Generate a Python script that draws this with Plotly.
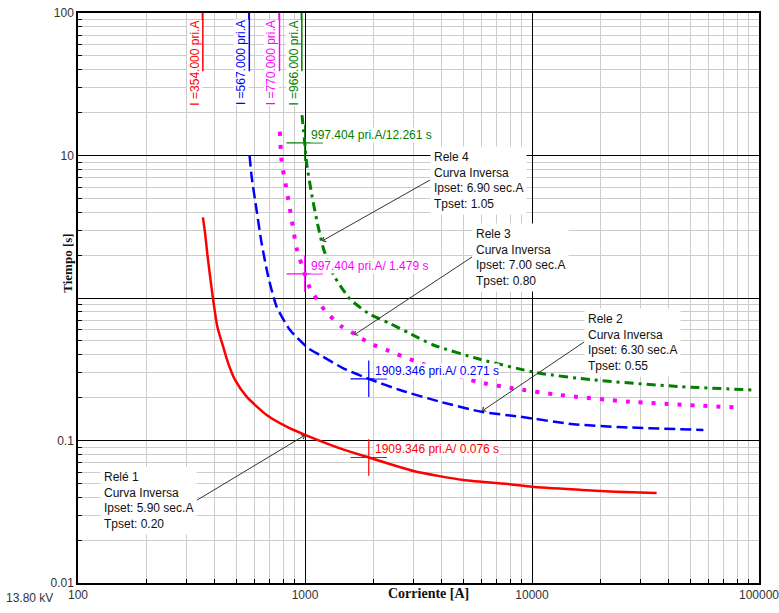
import math
import plotly.graph_objects as go

# ---------------- data ----------------
r1_x = [355, 363, 371, 382, 394, 411, 436, 459, 492, 553, 678, 830, 1007, 1426, 1909, 3000, 4980, 8000, 10000, 16560, 22060, 35400]
r1_y = [3.68, 2.84, 2.06, 1.41, 0.968, 0.629, 0.455, 0.348, 0.266, 0.203, 0.151, 0.125, 0.109, 0.088, 0.076, 0.0611, 0.0528, 0.0493, 0.0474, 0.045, 0.0438, 0.0428]

r2_x = [570, 582, 612, 644, 689, 750, 859, 1034, 1164, 1475, 1909, 2621, 3936, 5998, 8850, 15200, 25200, 56900]
r2_y = [10.0, 7.1, 4.14, 2.42, 1.41, 0.869, 0.596, 0.444, 0.398, 0.321, 0.271, 0.226, 0.187, 0.159, 0.147, 0.130, 0.124, 0.1186]

r3_x = [775, 789, 830, 873, 919, 997.4, 1052, 1225, 1452, 1606, 1932, 2328, 3105, 5700, 8280, 13280, 27000, 77100]
r3_y = [14.7, 9.05, 5.73, 3.57, 2.23, 1.479, 1.17, 0.815, 0.629, 0.574, 0.481, 0.427, 0.357, 0.259, 0.232, 0.2085, 0.187, 0.171]

r4_x = [970, 997.4, 1017, 1070, 1126, 1208, 1340, 1578, 1901, 2366, 2851, 3673, 5902, 10500, 18620, 44900, 94400]
r4_y = [19.2, 12.261, 8.81, 5.37, 3.53, 2.2, 1.44, 0.984, 0.781, 0.663, 0.571, 0.468, 0.3715, 0.299, 0.266, 0.239, 0.226]

pickups = [354.0, 567.0, 770.0, 966.0]
pickup_labels = ["I =354.000 pri.A", "I =567.000 pri.A", "I =770.000 pri.A", "I =966.000 pri.A"]
colors = ["#ff0000", "#0000ff", "#ff00ff", "#008000"]

cross_x = [997.404, 997.404, 1909.346, 1909.346]
cross_y = [12.261, 1.479, 0.271, 0.076]
cross_text = ["997.404 pri.A/12.261 s", "997.404 pri.A/ 1.479 s", "1909.346 pri.A/ 0.271 s", "1909.346 pri.A/ 0.076 s"]
cross_colors = ["#008000", "#ff00ff", "#0000ff", "#ff0000"]

relay_text = [
    "Relé 1<br>Curva Inversa<br>Ipset: 5.90 sec.A<br>Tpset: 0.20",
    "Rele 2<br>Curva Inversa<br>Ipset: 6.30 sec.A<br>Tpset: 0.55",
    "Rele 3<br>Curva Inversa<br>Ipset: 7.00 sec.A<br>Tpset: 0.80",
    "Rele 4<br>Curva Inversa<br>Ipset: 6.90 sec.A<br>Tpset: 1.05",
]
relay_tip_x = [1000, 6026, 1644, 1188]
relay_tip_y = [0.109, 0.161, 0.55, 2.51]

x_ticks = [100, 1000, 10000, 100000]
y_ticks = [0.01, 0.1, 1, 10, 100]
y_ticktext = ["0.01", "0.1", "", "10", "100"]

FONT = "Arial, Liberation Sans, sans-serif"
SERIF = "Times New Roman, Liberation Serif, serif"

fig = go.Figure()

styles = [
    dict(color=colors[0], width=2.5, dash="solid", shape="spline", smoothing=0.6),
    dict(color=colors[1], width=2.5, dash="11px,5px", shape="spline", smoothing=0.6),
    dict(color=colors[2], width=4, dash="4px,9px", shape="spline", smoothing=0.6),
    dict(color=colors[3], width=3, dash="9px,5px,3px,5px", shape="spline", smoothing=0.6),
]
for xs, ys, st in zip([r1_x, r2_x, r3_x, r4_x], [r1_y, r2_y, r3_y, r4_y], styles):
    fig.add_trace(go.Scatter(x=xs, y=ys, mode="lines", line=st, hoverinfo="skip"))

# pickup marker lines at top
for p, c in zip(pickups, colors):
    fig.add_trace(go.Scatter(x=[p, p], y=[100, 39], mode="lines", line=dict(color=c, width=2), hoverinfo="skip"))

# crosses
for cx, cy, cc in zip(cross_x, cross_y, cross_colors):
    fig.add_trace(go.Scatter(x=[cx], y=[cy], mode="markers",
                             marker=dict(symbol="cross-thin", size=26, line=dict(color=cc, width=1.2)),
                             hoverinfo="skip"))

annotations = []
# pickup labels (vertical)
for p, t, c in zip(pickups, pickup_labels, colors):
    annotations.append(dict(x=math.log10(p), y=1.649, xref="x", yref="y", text=t, textangle=-90,
                            showarrow=False, xanchor="center", yanchor="middle", xshift=-8,
                            font=dict(family=FONT, size=12, color=c), bgcolor="white", borderpad=0))

# cross labels
for cx, cy, t, c in zip(cross_x, cross_y, cross_text, cross_colors):
    annotations.append(dict(x=math.log10(cx), y=math.log10(cy), xref="x", yref="y", text=t,
                            showarrow=False, xanchor="left", yanchor="middle", xshift=5, yshift=8,
                            font=dict(family=FONT, size=12, color=c), bgcolor="white", borderpad=0))

# relay boxes
offsets = [(-108, 65, "right"), (102, -69, "left"), (118, -78, "left"), (108, -61, "left")]
for t, tx, ty, (ax, ay, anc) in zip(relay_text, relay_tip_x, relay_tip_y, offsets):
    annotations.append(dict(x=math.log10(tx), y=math.log10(ty), xref="x", yref="y", text=t,
                            showarrow=True, ax=ax, ay=ay, xanchor=anc, yanchor="middle", align="left",
                            arrowhead=4, arrowsize=1, arrowwidth=1, arrowcolor="#333333",
                            font=dict(family=FONT, size=12, color="#111111"),
                            bgcolor="white", borderpad=3))

# axis titles and voltage label
annotations.append(dict(x=-0.0294, y=0.561, xref="paper", yref="paper", text="<b>Tiempo [s]</b>",
                        textangle=-90, showarrow=False, font=dict(family=SERIF, size=13, color="#111111")))
annotations.append(dict(x=0.514, y=-0.035, xref="paper", yref="paper", text="<b>Corriente [A]</b>",
                        showarrow=False, font=dict(family=SERIF, size=14, color="#111111")))
annotations.append(dict(x=-0.108, y=-0.0265, xref="paper", yref="paper", text="13.80 kV", showarrow=False,
                        xanchor="left", yanchor="middle",
                        font=dict(family=FONT, size=12, color="#333333")))

minor_x = [k * 10 ** d for d in range(2, 5) for k in range(2, 10)]
minor_y = [k * 10 ** d for d in range(-2, 2) for k in range(2, 10)]

fig.update_layout(
    width=779, height=613,
    margin=dict(l=78, r=20, t=13, b=30, autoexpand=False),
    paper_bgcolor="white", plot_bgcolor="white",
    showlegend=False,
    annotations=annotations,
    xaxis=dict(type="log", range=[2, 5], tickvals=x_ticks, ticktext=[str(v) for v in x_ticks],
               automargin=False, ticklabeloverflow="allow",
               showgrid=True, gridcolor="#000000", gridwidth=1,
               ticks="inside", ticklen=5, tickcolor="#000000",
               minor=dict(tickvals=minor_x, showgrid=True, gridcolor="#cccccc", gridwidth=1,
                          ticks="inside", ticklen=4, tickcolor="#000000"),
               showline=True, linecolor="#000000", linewidth=1.5, mirror=True,
               tickfont=dict(family=FONT, size=12, color="#333333"), zeroline=False),
    yaxis=dict(type="log", range=[-2, 2], tickvals=y_ticks, ticktext=y_ticktext,
               automargin=False, ticklabeloverflow="allow",
               showgrid=True, gridcolor="#000000", gridwidth=1,
               ticks="inside", ticklen=6, tickcolor="#000000",
               minor=dict(tickvals=minor_y, showgrid=True, gridcolor="#cccccc", gridwidth=1,
                          ticks="inside", ticklen=4, tickcolor="#000000"),
               showline=True, linecolor="#000000", linewidth=1.5, mirror=True,
               tickfont=dict(family=FONT, size=12, color="#333333"), zeroline=False),
)

fig.write_html("out.html", config={"displayModeBar": False},
               post_script="document.body.style.margin='0';document.body.style.overflow='hidden';")
